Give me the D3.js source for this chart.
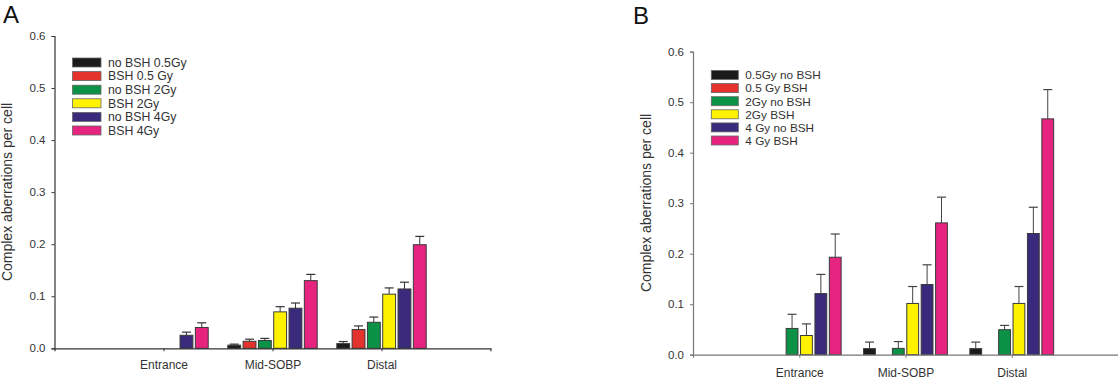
<!DOCTYPE html>
<html>
<head>
<meta charset="utf-8">
<script src="https://cdn.jsdelivr.net/npm/d3@7"></script>
<style>
  body { margin: 0; background: #fff; }
  text { font-family: Arial, "Liberation Sans", sans-serif; }
</style>
</head>
<body>
<div id="chart"></div>
<script>
// categorias comunes a los dos paneles
const categories = ['Entrance', 'Mid-SOBP', 'Distal'];
const yTicks = [0, 0.1, 0.2, 0.3, 0.4, 0.5, 0.6];
const colors = ['#1b1b1b', '#e4322c', '#0c9246', '#fff200', '#3a2a7c', '#e6247f'];

// Panel A
const seriesA = ['no BSH 0.5Gy', 'BSH 0.5 Gy', 'no BSH 2Gy', 'BSH 2Gy', 'no BSH 4Gy', 'BSH 4Gy'];
const meansA = [
  [null, 0.006, 0.009],
  [null, 0.0135, 0.036],
  [null, 0.015, 0.050],
  [null, 0.070, 0.104],
  [0.025, 0.077, 0.114],
  [0.040, 0.130, 0.199]
];
const errA = [
  [null, 0.002, 0.004],
  [null, 0.004, 0.007],
  [null, 0.004, 0.010],
  [null, 0.010, 0.012],
  [0.006, 0.010, 0.013],
  [0.009, 0.012, 0.016]
];

// Panel B
const seriesB = ['0.5Gy no BSH', '0.5 Gy BSH', '2Gy no BSH', '2Gy BSH', '4 Gy no BSH', '4 Gy BSH'];
const meansB = [
  [null, 0.012, 0.012],
  [null, null, null],
  [0.052, 0.0125, 0.0495],
  [0.038, 0.1015, 0.1015],
  [0.121, 0.139, 0.240],
  [0.193, 0.261, 0.467]
];
const errB = [
  [null, 0.013, 0.013],
  [null, null, null],
  [0.028, 0.0135, 0.0085],
  [0.023, 0.0335, 0.0335],
  [0.038, 0.039, 0.052],
  [0.046, 0.051, 0.058]
];

const width = 1118;
const height = 380;

const svg = d3.select('#chart')
  .append('svg')
  .attr('width', width)
  .attr('height', height);

function drawPanel(p) {
  const g = svg.append('g').attr('class', 'panel');

  const y = d3.scaleLinear().domain([0, 0.6]).range([p.y0, p.y1]);
  const x = d3.scalePoint().domain(categories).range([p.xLeft, p.xRight]).padding(1);
  const inner = d3.scaleBand()
    .domain(d3.range(p.series.length))
    .range([-p.half, p.half])
    .paddingInner(p.padInner);

  // barras
  p.series.forEach((name, s) => {
    categories.forEach((cat, c) => {
      const v = p.means[s][c];
      if (v == null) return;
      const bx = x(cat) + inner(s);
      const bw = inner.bandwidth();
      const e = p.errs[s][c];
      const cx = bx + bw / 2;
      g.append('line')
        .attr('x1', cx).attr('x2', cx)
        .attr('y1', y(v)).attr('y2', y(v + e))
        .attr('stroke', p.errColor).attr('stroke-width', 1);
      g.append('line')
        .attr('x1', cx - p.cap / 2).attr('x2', cx + p.cap / 2)
        .attr('y1', y(v + e)).attr('y2', y(v + e))
        .attr('stroke', p.errColor).attr('stroke-width', 1.2);
      g.append('rect')
        .attr('x', bx)
        .attr('y', y(v))
        .attr('width', bw)
        .attr('height', y(0) - y(v))
        .attr('fill', colors[s])
        .attr('stroke', '#3a3a3a')
        .attr('stroke-width', 1);
    });
  });

  // eje Y
  const yAxis = d3.axisLeft(y).tickValues(yTicks).tickFormat(d3.format('.1f')).tickSizeOuter(0).tickSize(3).tickPadding(6);
  const gy = g.append('g').attr('transform', `translate(${p.xLeft},0)`).call(yAxis);
  gy.select('.domain').attr('stroke', p.axisColor).attr('stroke-width', 1.2);
  gy.selectAll('.tick line').attr('stroke', p.axisColor);
  gy.selectAll('.tick text').attr('font-size', 11.5).attr('fill', '#333')
    .style('font-family', 'Arial, "Liberation Sans", sans-serif');

  // eje X
  const xAxis = d3.axisBottom(x).tickSizeOuter(0).tickSize(3).tickPadding(p.xPad);
  const gx = g.append('g').attr('transform', `translate(0,${p.y0})`).call(xAxis);
  gx.select('.domain').attr('stroke', p.axisColor).attr('stroke-width', 1.2);
  gx.selectAll('.tick line').attr('stroke', p.axisColor);
  gx.selectAll('.tick text').attr('font-size', 12).attr('fill', '#333')
    .style('font-family', 'Arial, "Liberation Sans", sans-serif');

  // titulo eje Y
  g.append('text')
    .attr('transform', `translate(${p.titleX},${p.titleY}) rotate(-90)`)
    .attr('text-anchor', 'middle')
    .attr('font-size', 14)
    .attr('fill', '#333')
    .text('Complex aberrations per cell');

  // letra del panel
  g.append('text')
    .attr('x', p.letterX)
    .attr('y', p.letterY)
    .attr('font-size', 24)
    .attr('fill', '#111')
    .text(p.letter);

  // leyenda
  const legend = g.append('g').attr('class', 'legend');
  p.series.forEach((name, s) => {
    const ly = p.legY + s * p.legStep;
    legend.append('rect')
      .attr('x', p.legX)
      .attr('y', ly - 4.5)
      .attr('width', p.swW)
      .attr('height', 9)
      .attr('fill', colors[s])
      .attr('stroke', '#666')
      .attr('stroke-width', 0.8);
    legend.append('text')
      .attr('x', p.legX + p.swW + 7)
      .attr('y', ly + 4.3)
      .attr('font-size', p.legFont)
      .attr('fill', '#333')
      .text(name);
  });
}

drawPanel({
  letter: 'A', letterX: 3, letterY: 23,
  series: seriesA, means: meansA, errs: errA,
  xLeft: 54.5, xRight: 490.5, y0: 348.3, y1: 36,
  half: 44.7, padInner: 0.16, cap: 9,
  axisColor: '#333', errColor: '#333', xPad: 9,
  titleX: 12, titleY: 192,
  legX: 72.5, legY: 62.5, legStep: 13.6, swW: 28.5, legFont: 12.3
});

drawPanel({
  letter: 'B', letterX: 633, letterY: 24,
  series: seriesB, means: meansB, errs: errB,
  xLeft: 693, xRight: 1118, y0: 354.7, y1: 51.7,
  half: 41.9, padInner: 0.18, cap: 9,
  axisColor: '#777', errColor: '#444', xPad: 11,
  titleX: 651, titleY: 203,
  legX: 711.3, legY: 75, legStep: 13.1, swW: 27, legFont: 11.8
});
</script>
</body>
</html>
